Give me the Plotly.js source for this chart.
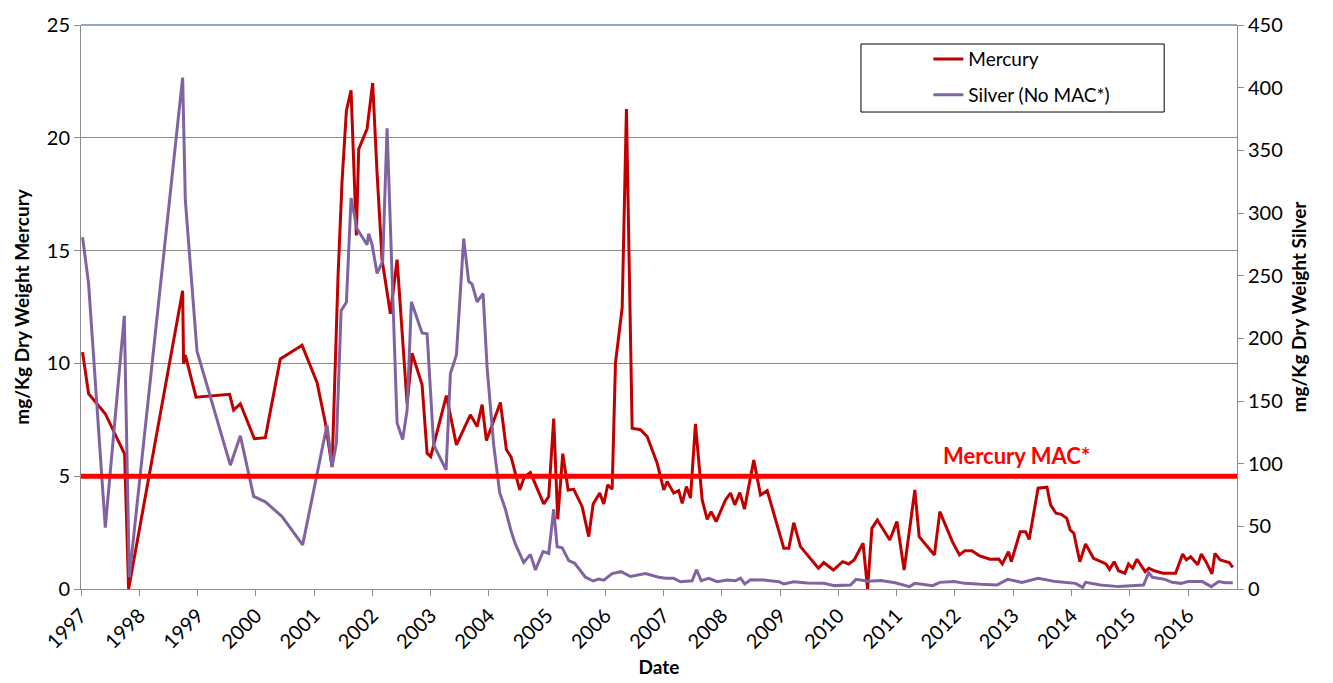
<!DOCTYPE html>
<html>
<head>
<meta charset="utf-8">
<script src="https://cdn.plot.ly/plotly-3.0.1.min.js"></script>
<style>html,body{margin:0;padding:0;background:#fff;}#chart{width:1333px;height:683px;}</style>
</head>
<body>
<div id="chart"></div>
<script>
// Mercury (mg/Kg dry weight) – decimal year / value
const mercuryYears = [1997.027,1997.130,1997.417,1997.749,1997.817,1998.744,1998.761,1998.791,1998.974,1999.551,1999.620,1999.735,1999.975,2000.164,2000.421,2000.794,2001.052,2001.194,2001.309,2001.412,2001.481,2001.555,2001.635,2001.726,2001.766,2001.910,2002.006,2002.082,2002.167,2002.310,2002.425,2002.597,2002.682,2002.854,2002.940,2003.002,2003.271,2003.443,2003.683,2003.798,2003.884,2003.958,2004.198,2004.301,2004.382,2004.530,2004.610,2004.713,2004.942,2005.027,2005.113,2005.182,2005.268,2005.361,2005.457,2005.601,2005.714,2005.790,2005.903,2005.972,2006.040,2006.116,2006.173,2006.288,2006.361,2006.459,2006.602,2006.717,2006.888,2007.002,2007.060,2007.173,2007.259,2007.318,2007.391,2007.460,2007.546,2007.661,2007.747,2007.815,2007.901,2008.061,2008.147,2008.221,2008.307,2008.387,2008.547,2008.662,2008.777,2009.062,2009.148,2009.233,2009.348,2009.470,2009.656,2009.747,2009.913,2010.071,2010.176,2010.269,2010.422,2010.500,2010.574,2010.667,2010.881,2011.003,2011.127,2011.311,2011.385,2011.647,2011.740,2011.955,2012.077,2012.170,2012.291,2012.415,2012.599,2012.751,2012.813,2012.918,2012.966,2013.119,2013.211,2013.273,2013.426,2013.579,2013.640,2013.733,2013.824,2013.917,2013.977,2014.039,2014.143,2014.241,2014.377,2014.592,2014.652,2014.732,2014.806,2014.916,2014.978,2015.050,2015.124,2015.264,2015.326,2015.419,2015.572,2015.786,2015.908,2015.970,2016.044,2016.166,2016.227,2016.308,2016.411,2016.461,2016.552,2016.707,2016.767];
const mercuryValues = [10.5,8.66,7.77,5.98,0,13.22,9.97,10.37,8.5,8.63,7.93,8.21,6.66,6.71,10.2,10.81,9.15,7.36,5.41,13.9,18.1,21.2,22.1,15.67,19.5,20.4,22.43,18.4,14.6,12.2,14.6,8.2,10.45,9.05,6.02,5.87,8.57,6.39,7.72,7.2,8.17,6.58,8.27,6.17,5.85,4.39,4.98,5.16,3.77,4.1,7.55,3.09,6.0,4.39,4.42,3.65,2.32,3.77,4.25,3.77,4.62,4.42,10.02,12.47,21.27,7.13,7.06,6.76,5.58,4.39,4.76,4.25,4.36,3.8,4.54,4.03,7.32,3.95,3.09,3.43,2.99,3.95,4.25,3.73,4.27,3.54,5.72,4.17,4.36,1.81,1.81,2.94,1.88,1.51,0.92,1.17,0.84,1.21,1.11,1.29,2.03,0,2.69,3.06,2.17,2.99,0.84,4.39,2.32,1.51,3.43,2.1,1.51,1.7,1.7,1.48,1.32,1.33,1.11,1.66,1.21,2.54,2.54,2.2,4.47,4.51,3.73,3.36,3.31,3.14,2.62,2.47,1.21,2.0,1.36,1.11,0.87,1.21,0.81,0.7,1.11,0.92,1.32,0.77,0.92,0.81,0.7,0.7,1.55,1.29,1.43,1.07,1.55,1.21,0.67,1.58,1.29,1.17,0.96];

// Silver (mg/Kg dry weight)
const silverYears = [1997.027,1997.130,1997.417,1997.743,1997.829,1998.744,1998.791,1998.991,1999.563,1999.735,1999.963,2000.164,2000.451,2000.804,2001.223,2001.309,2001.383,2001.464,2001.555,2001.635,2001.738,2001.910,2001.937,2001.996,2002.082,2002.178,2002.253,2002.425,2002.521,2002.597,2002.670,2002.854,2002.940,2003.053,2003.266,2003.340,2003.443,2003.568,2003.654,2003.712,2003.798,2003.901,2003.970,2004.083,2004.186,2004.284,2004.382,2004.456,2004.598,2004.713,2004.799,2004.931,2005.027,2005.113,2005.172,2005.258,2005.371,2005.474,2005.658,2005.790,2005.886,2005.972,2006.116,2006.270,2006.430,2006.687,2006.916,2007.031,2007.173,2007.288,2007.489,2007.563,2007.644,2007.774,2007.918,2008.090,2008.232,2008.318,2008.392,2008.490,2008.718,2008.976,2009.062,2009.233,2009.464,2009.749,2009.931,2010.207,2010.300,2010.514,2010.729,2010.972,2011.218,2011.311,2011.617,2011.740,2011.985,2012.169,2012.446,2012.720,2012.904,2013.150,2013.426,2013.730,2014.066,2014.192,2014.241,2014.498,2014.806,2014.990,2015.235,2015.326,2015.388,2015.603,2015.725,2015.879,2016.001,2016.246,2016.399,2016.524,2016.645,2016.767];
const silverValues = [280.6,243.9,49,218,9.4,408,310,189.7,98.8,122.2,73.9,69.5,57.8,35.2,131,97.3,116.4,222,228.7,311.9,287.3,274.7,283.5,274.7,251.8,261.5,367.6,132.5,119.3,142.8,229.2,204.3,203.7,114.9,95,172,186.7,279.6,245.4,243.3,229.2,235.7,176.4,114.9,76.8,63.6,46,35.8,21.1,27.6,15.2,29.9,28.4,63.6,33.7,32.8,22.6,20.5,9.4,6.4,7.9,7,12.3,13.8,10,12.3,9.4,8.5,8.5,5.8,6.6,15.4,6.6,8.5,5.8,7.1,6.6,8.7,4.0,7.4,7.1,5.8,4.0,5.8,4.8,4.5,2.7,3.2,7.7,6.1,6.7,5,1.9,4.5,2.7,5.3,5.9,4.5,3.7,3.2,7.7,5.3,8.5,5.9,4.5,1.3,5.3,3.2,1.9,2.4,3.2,13,9.3,7.7,5.3,4.5,5.9,5.9,1.9,5.9,5,5];

const tickYears = [1997,1998,1999,2000,2001,2002,2003,2004,2005,2006,2007,2008,2009,2010,2011,2012,2013,2014,2015,2016];
const tickLabels = ["1997","1998","1999","2000","2001","2002","2003","2004","2005","2006","2007","2008","2009","2010","2011","2012","2013","2014","2015","2016"];
const mercuryMAC = 5;

const FONT = 'Lato, "Open Sans", sans-serif';
const GRID = '#8c8c8c';

const traces = [
  {x: mercuryYears, y: mercuryValues, type: 'scatter', mode: 'lines', name: 'Mercury',
   legendgroup: 'hg', line: {color: '#C00000', width: 3}, yaxis: 'y'},
  {x: silverYears, y: silverValues, type: 'scatter', mode: 'lines', name: 'Silver (No MAC*)',
   legendgroup: 'ag', line: {color: '#8064A2', width: 3}, yaxis: 'y2'}
];

const layout = {
  width: 1333, height: 683,
  margin: {l: 81, r: 96, t: 25, b: 94},
  paper_bgcolor: '#fff', plot_bgcolor: '#fff',
  font: {family: FONT, color: '#000', size: 18},
  showlegend: true,
  legend: {x: 0.733, y: 0.973, xanchor: 'left', yanchor: 'top', bgcolor: 'rgba(0,0,0,0)',
           borderwidth: 0, font: {family: FONT, size: 19}, tracegroupgap: 8},
  xaxis: {range: [1997, 2016.84], tickmode: 'array', tickvals: tickYears, ticktext: tickLabels,
          tickangle: -45, ticks: 'outside', ticklen: 6, tickcolor: GRID, showline: true,
          linecolor: GRID, linewidth: 1, showgrid: false, zeroline: false,
          tickfont: {family: FONT, size: 20},
          title: {text: '<b>Date</b>', font: {family: FONT, size: 19}, standoff: 8}},
  yaxis: {range: [0, 25], dtick: 5, tick0: 0, ticks: 'outside', ticklen: 6, tickcolor: GRID,
          showline: true, linecolor: GRID, gridcolor: GRID, gridwidth: 1, zeroline: false,
          tickfont: {family: FONT, size: 20},
          title: {text: '<b>mg/Kg Dry Weight Mercury</b>', font: {family: FONT, size: 19}, standoff: 12}},
  yaxis2: {range: [0, 450], dtick: 50, tick0: 0, overlaying: 'y', side: 'right', ticks: 'outside',
           ticklen: 6, tickcolor: GRID, showline: true, linecolor: GRID, showgrid: false, zeroline: false,
           tickfont: {family: FONT, size: 20},
           title: {text: '<b>mg/Kg Dry Weight Silver</b>', font: {family: FONT, size: 19}, standoff: 10}},
  shapes: [
    {type: 'line', xref: 'paper', yref: 'y', x0: 0, x1: 1, y0: mercuryMAC, y1: mercuryMAC,
     line: {color: '#FF0000', width: 5}, layer: 'above'},
    {type: 'line', xref: 'paper', yref: 'paper', x0: 0, x1: 1, y0: 1, y1: 1,
     line: {color: '#2F4F7F', width: 1.2}},
    {type: 'rect', xref: 'paper', yref: 'paper', x0: 0.6747, x1: 0.937, y0: 0.8457, y1: 0.9663,
     line: {color: '#000', width: 1}, fillcolor: 'rgba(0,0,0,0)'}
  ],
  annotations: [
    {xref: 'paper', yref: 'y', x: 0.809, y: mercuryMAC, xanchor: 'center', yanchor: 'bottom', yshift: 5,
     text: '<b>Mercury MAC*</b>', showarrow: false, font: {family: FONT, size: 22, color: '#FF0000'}}
  ]
};

Plotly.newPlot('chart', traces, layout, {displayModeBar: false, staticPlot: true});
</script>
</body>
</html>
